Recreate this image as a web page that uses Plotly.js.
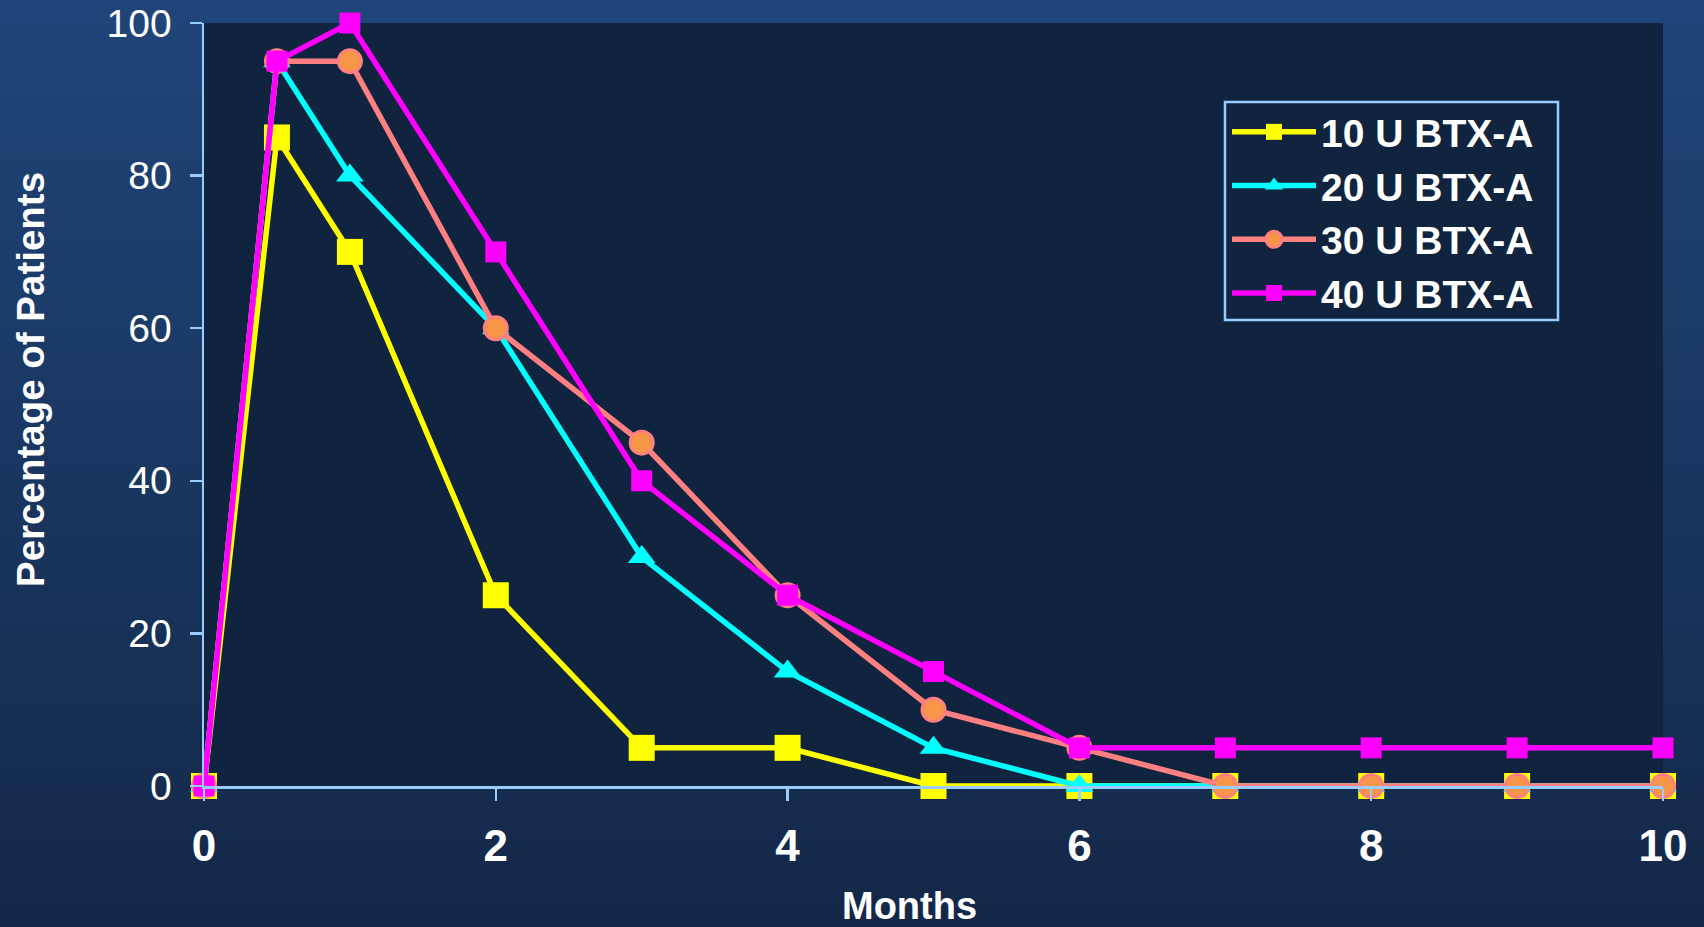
<!DOCTYPE html>
<html>
<head>
<meta charset="utf-8">
<script src="https://cdn.plot.ly/plotly-3.0.1.min.js"></script>
<style>
  html, body { margin: 0; padding: 0; }
  #wrap { width: 1704px; height: 927px; background: linear-gradient(to bottom, #20457a 0%, #1a3863 45%, #132848 100%); }
  #chart { width: 1704px; height: 927px; }
</style>
</head>
<body>
<div id="wrap"><div id="chart"></div></div>
<script>
// Data
const months = [0, 0.5, 1, 2, 3, 4, 5, 6, 7, 8, 9, 10];
const seriesNames = ["10 U BTX-A", "20 U BTX-A", "30 U BTX-A", "40 U BTX-A"];
const btx10 = [0, 85, 70, 25, 5, 5, 0, 0, 0, 0, 0, 0];
const btx20 = [0, 95, 80, 60, 30, 15, 5, 0, 0, 0, 0, 0];
const btx30 = [0, 95, 95, 60, 45, 25, 10, 5, 0, 0, 0, 0];
const btx40 = [0, 95, 100, 70, 40, 25, 15, 5, 5, 5, 5, 5];
const xTicks = [0, 2, 4, 6, 8, 10];
const yTicks = [0, 20, 40, 60, 80, 100];

const FONT = "Liberation Sans, Arial, Helvetica, sans-serif";

// plot area in pixels (for paper-coordinate conversions)
const PL = 204, PR = 1663, PT = 23, PB = 786;
const px = v => (v - PL) / (PR - PL);
const py = v => (PB - v) / (PB - PT);

const traces = [
  {
    x: months, y: btx10, name: seriesNames[0], mode: "lines+markers", type: "scatter",
    line: { color: "#ffff00", width: 5.5 },
    marker: { symbol: "square", size: 26, color: "#ffff00" },
    cliponaxis: false
  },
  {
    x: months, y: btx20, name: seriesNames[1], mode: "lines+markers", type: "scatter",
    line: { color: "#00ffff", width: 5.5 },
    marker: { symbol: "triangle-up", size: 24, color: "#00ffff" },
    cliponaxis: false
  },
  {
    x: months, y: btx30, name: seriesNames[2], mode: "lines+markers", type: "scatter",
    line: { color: "#ff8080", width: 5.5 },
    marker: { symbol: "circle", size: 23, color: "#f79646", line: { color: "#ff8080", width: 3 } },
    cliponaxis: false
  },
  {
    x: months, y: btx40, name: seriesNames[3], mode: "lines+markers", type: "scatter",
    line: { color: "#ff00ff", width: 5.5 },
    marker: { symbol: "square", size: 21, color: "#ff00ff" },
    cliponaxis: false
  }
];

const layout = {
  width: 1704, height: 927,
  margin: { l: PL, r: 1704 - PR, t: PT, b: 927 - PB },
  paper_bgcolor: "rgba(0,0,0,0)",
  plot_bgcolor: "#10243f",
  font: { family: FONT, color: "#ffffff" },
  showlegend: true,
  legend: {
    x: px(1227), y: py(100), xanchor: "left", yanchor: "top",
    bgcolor: "rgba(0,0,0,0)", borderwidth: 0,
    font: { family: FONT, size: 39, color: "#ffffff", weight: "bold" },
    itemwidth: 84, tracegroupgap: 0
  },
  shapes: [
    {
      type: "rect", xref: "paper", yref: "paper",
      x0: px(1225), x1: px(1558), y0: py(320), y1: py(102),
      line: { color: "#99ccff", width: 2.5 }, fillcolor: "rgba(0,0,0,0)", layer: "below"
    }
  ],
  xaxis: {
    range: [0, 10], tickvals: xTicks, ticktext: xTicks.map(String),
    showline: true, linecolor: "#99ccff", linewidth: 2.5,
    ticks: "outside", ticklen: 12, tickwidth: 2.5, tickcolor: "#99ccff",
    showgrid: false, zeroline: false,
    tickfont: { family: FONT, size: 44, color: "#ffffff", weight: "bold" },
    ticklabelstandoff: 8,
    fixedrange: true
  },
  yaxis: {
    range: [0, 100], tickvals: yTicks, ticktext: yTicks.map(String),
    showline: true, linecolor: "#99ccff", linewidth: 2.5,
    ticks: "outside", ticklen: 12, tickwidth: 2.5, tickcolor: "#99ccff",
    showgrid: false, zeroline: false,
    tickfont: { family: FONT, size: 39, color: "#ffffff" },
    ticklabelstandoff: 10,
    fixedrange: true
  },
  annotations: [
    {
      text: "Months", xref: "paper", yref: "paper",
      x: px(909), y: py(906),
      xanchor: "center", yanchor: "middle", showarrow: false,
      font: { family: FONT, size: 38, color: "#ffffff", weight: "bold" }
    },
    {
      text: "Percentage of Patients", xref: "paper", yref: "paper",
      x: px(30), y: py(380),
      xanchor: "center", yanchor: "middle", showarrow: false, textangle: -90,
      font: { family: FONT, size: 38.5, color: "#ffffff", weight: "bold" }
    }
  ]
};

Plotly.newPlot("chart", traces, layout, { displayModeBar: false, staticPlot: true });
</script>
</body>
</html>
